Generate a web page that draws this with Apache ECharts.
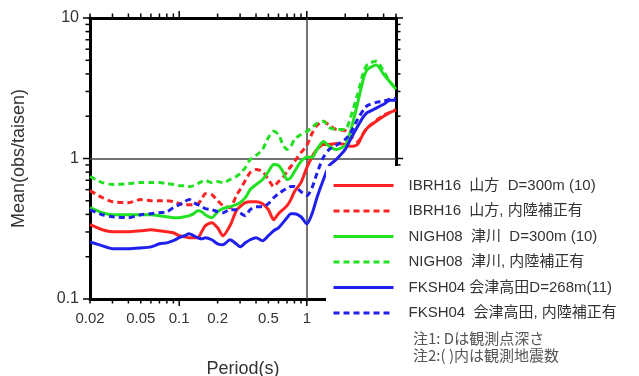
<!DOCTYPE html>
<html>
<head>
<meta charset="utf-8">
<script src="https://cdn.jsdelivr.net/npm/echarts@6/dist/echarts.min.js"></script>
<style>
  html, body { margin: 0; padding: 0; background: #fff; }
  #chart { width: 639px; height: 376px; }
</style>
</head>
<body>
<div id="chart"></div>
<script>
// Period axis (s)
const periods = [0.02, 0.025, 0.03, 0.04, 0.05, 0.06, 0.07, 0.08, 0.09, 0.1,
  0.11, 0.12, 0.13, 0.14, 0.15, 0.16, 0.18, 0.2, 0.22, 0.25,
  0.28, 0.3, 0.33, 0.36, 0.4, 0.45, 0.5, 0.55, 0.6, 0.65,
  0.7, 0.75, 0.8, 0.9, 1.0, 1.1, 1.2, 1.35, 1.5, 1.7,
  2.0, 2.2, 2.5, 2.8, 3.0, 3.5, 4.0, 4.5, 5.0];

// Mean of obs/taisen ratio per station
const ibrh16 = [0.338, 0.311, 0.301, 0.301, 0.306, 0.311, 0.306, 0.301, 0.296, 0.282,
  0.277, 0.273, 0.273, 0.273, 0.301, 0.332, 0.349, 0.321, 0.282, 0.332,
  0.425, 0.454, 0.485, 0.493, 0.493, 0.477, 0.432, 0.367, 0.405, 0.432,
  0.462, 0.510, 0.581, 0.674, 0.862, 1.03, 1.16, 1.26, 1.26, 1.28,
  1.26, 1.22, 1.26, 1.53, 1.66, 1.84, 2.0, 2.13, 2.20];
const ibrh16Inland = [0.591, 0.526, 0.493, 0.485, 0.510, 0.501, 0.501, 0.501, 0.493, 0.477,
  0.469, 0.469, 0.469, 0.477, 0.510, 0.562, 0.553, 0.501, 0.462, 0.447,
  0.544, 0.601, 0.697, 0.794, 0.834, 0.807, 0.708, 0.631, 0.685, 0.732,
  0.807, 0.877, 0.952, 1.10, 1.24, 1.51, 1.72, 1.84, 1.72, 1.61,
  1.58, 1.44, 1.32, 1.53, 1.66, 1.87, 2.03, 2.13, 2.24];
const nigh08 = [0.447, 0.411, 0.398, 0.398, 0.398, 0.398, 0.392, 0.385, 0.379, 0.379,
  0.385, 0.392, 0.405, 0.425, 0.418, 0.398, 0.379, 0.418, 0.440, 0.454,
  0.469, 0.485, 0.526, 0.601, 0.652, 0.708, 0.807, 0.906, 0.891, 0.807,
  0.708, 0.732, 0.807, 0.952, 1.02, 1.02, 1.16, 1.32, 1.22, 1.16,
  1.24, 1.56, 2.47, 3.79, 4.32, 4.62, 3.98, 3.49, 3.11];
const nigh08Inland = [0.744, 0.674, 0.652, 0.663, 0.674, 0.674, 0.674, 0.663, 0.652, 0.641,
  0.641, 0.631, 0.641, 0.663, 0.685, 0.697, 0.674, 0.685, 0.674, 0.708,
  0.744, 0.782, 0.862, 0.984, 1.05, 1.16, 1.41, 1.56, 1.48, 1.26,
  1.16, 1.22, 1.37, 1.48, 1.56, 1.66, 1.78, 1.84, 1.66, 1.61,
  1.61, 1.96, 2.86, 4.18, 4.69, 4.93, 4.18, 3.49, 3.16];
const fksh04 = [0.255, 0.239, 0.228, 0.228, 0.231, 0.235, 0.247, 0.251, 0.260, 0.273,
  0.282, 0.291, 0.282, 0.273, 0.268, 0.273, 0.264, 0.247, 0.243, 0.264,
  0.247, 0.235, 0.251, 0.264, 0.273, 0.260, 0.282, 0.306, 0.321, 0.349,
  0.379, 0.405, 0.405, 0.385, 0.343, 0.405, 0.526, 0.708, 0.891, 0.984,
  1.16, 1.37, 1.69, 2.0, 2.13, 2.28, 2.43, 2.60, 2.60];
const fksh04Inland = [0.432, 0.398, 0.385, 0.379, 0.398, 0.405, 0.411, 0.418, 0.447, 0.469,
  0.493, 0.510, 0.485, 0.469, 0.454, 0.440, 0.432, 0.418, 0.411, 0.432,
  0.432, 0.411, 0.392, 0.432, 0.454, 0.454, 0.477, 0.526, 0.562, 0.591,
  0.611, 0.631, 0.631, 0.581, 0.544, 0.621, 0.782, 1.02, 1.16, 1.24,
  1.37, 1.51, 1.90, 2.24, 2.39, 2.51, 2.55, 2.64, 2.68];

// Legend labels
const seriesNames = [
  'IBRH16  山方  D=300m (10)',
  'IBRH16  山方, 内陸補正有',
  'NIGH08  津川  D=300m (10)',
  'NIGH08  津川, 内陸補正有',
  'FKSH04 会津高田D=268m(11)',
  'FKSH04  会津高田, 内陸補正有'
];
const seriesValues = [ibrh16, ibrh16Inland, nigh08, nigh08Inland, fksh04, fksh04Inland];
const seriesColors = ['#ff2222', '#ff2222', '#22e022', '#22e022', '#1f1fee', '#1f1fee'];
const seriesDashed = [false, true, false, true, false, true];

// Tick positions
const xLabelValues = [0.02, 0.05, 0.1, 0.2, 0.5, 1];
const xMinorTicks = [0.02, 0.03, 0.04, 0.05, 0.06, 0.07, 0.08, 0.09,
  0.2, 0.3, 0.4, 0.5, 0.6, 0.7, 0.8, 0.9, 2, 3, 4, 5];
const xMajorTicks = [0.1, 1];
const yLabelValues = [0.1, 1, 10];
const yMinorTicks = [0.2, 0.3, 0.4, 0.5, 0.6, 0.7, 0.8, 0.9, 2, 3, 4, 5, 6, 7, 8, 9];
const yMajorTicks = [0.1, 1, 10];

const notes = '注1: Dは観測点深さ\n注2:( )内は観測地震数';

const X_MIN = 0.02, X_MAX = 5, Y_MIN = 0.1, Y_MAX = 10;
const MINOR_LEN = 4.5, MAJOR_LEN = 7;

const FONT = "'Liberation Sans', 'Noto Sans CJK JP', sans-serif";
const chart = echarts.init(document.getElementById('chart'), null, { renderer: 'canvas' });

function xAxisDef(position, showLabel) {
  return {
    type: 'log', logBase: 10, min: X_MIN, max: X_MAX, position: position,
    axisLine: { show: true, onZero: false, lineStyle: { color: '#000', width: 3 } },
    axisTick: { show: false },
    axisLabel: showLabel ? { show: true, customValues: xLabelValues, margin: 12,
      fontSize: 15, color: '#333', fontFamily: FONT,
      formatter: v => String(+v.toPrecision(3)) } : { show: false },
    splitLine: { show: false },
    name: showLabel ? 'Period(s)' : '',
    nameLocation: 'middle', nameGap: 61, nameMoveOverlap: false,
    nameTextStyle: { fontSize: 18, color: '#333', fontFamily: FONT }
  };
}
function yAxisDef(position, showLabel) {
  return {
    type: 'log', logBase: 10, min: Y_MIN, max: Y_MAX, position: position,
    axisLine: { show: true, onZero: false, lineStyle: { color: '#000', width: 3 } },
    axisTick: { show: false },
    axisLabel: showLabel ? { show: true, customValues: yLabelValues, margin: 11,
      fontSize: 16, color: '#333', fontFamily: FONT,
      formatter: v => String(+v.toPrecision(3)) } : { show: false },
    splitLine: { show: false },
    name: showLabel ? 'Mean(obs/taisen)' : '',
    nameLocation: 'middle', nameGap: 62, nameMoveOverlap: false,
    nameTextStyle: { fontSize: 18, color: '#333', fontFamily: FONT }
  };
}

const series = seriesNames.map((name, i) => ({
  name: name,
  type: 'line',
  data: periods.map((p, j) => [p, seriesValues[i][j]]),
  showSymbol: false, symbol: 'none',
  smooth: 0.25,
  lineStyle: { color: seriesColors[i], width: 3, type: seriesDashed[i] ? [6, 4] : 'solid' },
  itemStyle: { color: seriesColors[i] },
  z: 3
}));

// Reference lines at period 1 s and ratio 1
series[0].markLine = {
  silent: true, symbol: 'none', animation: false,
  label: { show: false },
  lineStyle: { color: '#444', width: 1.5, type: 'solid' },
  data: [{ xAxis: 1 }, { yAxis: 1 }],
  z: 1
};

// Log-scale tick marks on all four frame sides (dir: 0 bottom, 1 top, 2 left, 3 right)
const tickData = [];
xMinorTicks.forEach(v => { tickData.push([v, Y_MIN, 0, MINOR_LEN]); tickData.push([v, Y_MAX, 1, MINOR_LEN]); });
xMajorTicks.forEach(v => { tickData.push([v, Y_MIN, 0, MAJOR_LEN]); tickData.push([v, Y_MAX, 1, MAJOR_LEN]); });
yMinorTicks.forEach(v => { tickData.push([X_MIN, v, 2, MINOR_LEN]); tickData.push([X_MAX, v, 3, MINOR_LEN]); });
yMajorTicks.forEach(v => { tickData.push([X_MIN, v, 2, MAJOR_LEN]); tickData.push([X_MAX, v, 3, MAJOR_LEN]); });

series.push({
  type: 'custom',
  name: 'ticks',
  silent: true,
  clip: false,
  z: 2,
  data: tickData,
  renderItem: function (params, api) {
    const p = api.coord([api.value(0), api.value(1)]);
    const dir = api.value(2), len = api.value(3);
    let x2 = p[0], y2 = p[1];
    if (dir === 0) y2 += len;
    else if (dir === 1) y2 -= len;
    else if (dir === 2) x2 -= len;
    else x2 += len;
    return {
      type: 'line',
      shape: { x1: p[0], y1: p[1], x2: x2, y2: y2 },
      style: { stroke: '#000', lineWidth: 1.5 }
    };
  }
});

chart.setOption({
  animation: false,
  textStyle: { fontFamily: FONT },
  grid: { left: 90, right: 243, top: 18, bottom: 77, containLabel: false, outerBoundsMode: 'none' },
  xAxis: [xAxisDef('bottom', true), xAxisDef('top', false)],
  yAxis: [yAxisDef('left', true), yAxisDef('right', false)],
  legend: {
    orient: 'vertical',
    left: 326, top: 166,
    padding: [12, 14, 6, 6],
    backgroundColor: '#fff',
    itemWidth: 60, itemHeight: 14, itemGap: 10.5,
    selectedMode: false,
    itemStyle: { opacity: 0 },
    lineStyle: { width: 3 },
    textStyle: { fontSize: 15, color: '#333', fontFamily: FONT, padding: [0, 0, 0, 10] },
    data: seriesNames,
    z: 10
  },
  graphic: [{
    type: 'text', left: 413, top: 330, z: 20,
    style: { text: notes, font: "15px 'Noto Sans CJK JP', sans-serif", fill: '#555', lineHeight: 17 }
  }],
  series: series
});
</script>
</body>
</html>
